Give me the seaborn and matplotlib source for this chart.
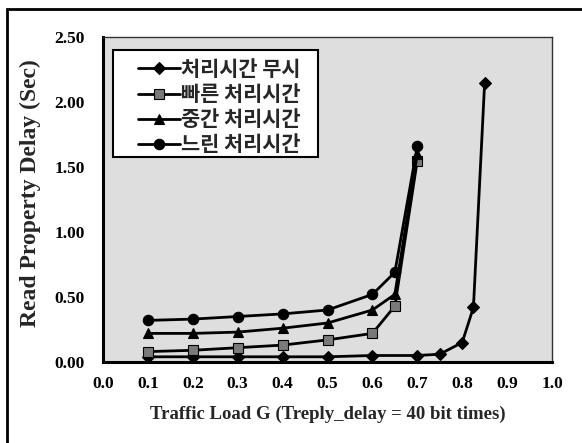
import numpy as np
import pandas as pd
import seaborn as sns
import matplotlib
matplotlib.use("Agg")
import matplotlib.pyplot as plt
from matplotlib.patches import Rectangle

# ---- data ----
labels = ["처리시간 무시", "빠른 처리시간", "중간 처리시간", "느린 처리시간"]

x_ignore = [0.1, 0.2, 0.3, 0.4, 0.5, 0.6, 0.7, 0.75, 0.8, 0.825, 0.85]
y_ignore = [0.04, 0.04, 0.04, 0.04, 0.04, 0.05, 0.05, 0.06, 0.15, 0.42, 2.15]

x_common = [0.1, 0.2, 0.3, 0.4, 0.5, 0.6, 0.65, 0.7]
y_fast = [0.08, 0.09, 0.11, 0.13, 0.17, 0.22, 0.43, 1.55]
y_mid = [0.22, 0.22, 0.23, 0.26, 0.30, 0.40, 0.52, 1.60]
y_slow = [0.32, 0.33, 0.35, 0.37, 0.40, 0.52, 0.69, 1.66]

x_ticks = [0.0, 0.1, 0.2, 0.3, 0.4, 0.5, 0.6, 0.7, 0.8, 0.9, 1.0]
y_ticks = [0.0, 0.5, 1.0, 1.5, 2.0, 2.5]

series = [
    (labels[0], x_ignore, y_ignore, "D", "black", 6),
    (labels[1], x_common, y_fast, "s", "#7a7a7a", 6.5),
    (labels[2], x_common, y_mid, "^", "black", 7),
    (labels[3], x_common, y_slow, "o", "black", 7.5),
]

sns.set_style("white")
plt.rcParams['font.family'] = ['Liberation Serif', 'Noto Sans CJK KR', 'DejaVu Sans']

fig = plt.figure(figsize=(5.82, 4.43), dpi=100)
ax = fig.add_axes([103/582, 1-362/443, (552-103)/582, (362-37)/443])
ax.set_facecolor("#dedede")

for name, xs, ys, m, fc, ms in series:
    sns.lineplot(x=xs, y=ys, ax=ax, color="black", linewidth=2, marker=m,
                 markersize=ms, markerfacecolor=fc, markeredgecolor="black",
                 markeredgewidth=0.8, label=name)

ax.set_xlim(0, 1.0)
ax.set_ylim(0, 2.5)
ax.set_xticks(x_ticks)
ax.set_yticks(y_ticks)
ax.set_xticklabels([f"{v:.1f}" for v in x_ticks], fontsize=12.5, fontweight="bold")
ax.set_yticklabels([f"{v:.2f}" for v in y_ticks], fontsize=12.5, fontweight="bold")
ax.tick_params(direction="in", length=4, width=1.5, colors="black")
ax.tick_params(axis="x", pad=10)
ax.tick_params(axis="y", pad=13)

for s in ["left", "bottom"]:
    ax.spines[s].set_linewidth(2.2)
    ax.spines[s].set_color("black")
for s in ["top", "right"]:
    ax.spines[s].set_linewidth(1.0)
    ax.spines[s].set_color("#333333")

ax.set_ylabel("Read Property Delay (Sec)", fontsize=17, fontweight="bold")
ax.yaxis.set_label_coords(-0.138, 0.52)
ax.set_xlabel("Traffic Load G (Treply_delay = 40 bit times)", fontsize=13.5,
              fontweight="bold", labelpad=10)

# legend box (drawn separately to get the wide left margin)
ax.add_patch(Rectangle((0.022, 0.631), 0.457, 0.329, transform=ax.transAxes,
                       facecolor="white", edgecolor="black", linewidth=1.5,
                       zorder=4))
leg = ax.legend(loc="upper left", bbox_to_anchor=(0.078, 0.933), frameon=False,
                handlelength=2.0, handletextpad=0.05,
                labelspacing=0.2, borderpad=0, borderaxespad=0,
                prop={"family": ["Noto Sans CJK KR"], "weight": "bold", "size": 15})
leg.set_zorder(5)

# outer frame
fig.patches.append(Rectangle((7/582, -0.05), 1.2, 1 - 9/443 + 0.05,
                             transform=fig.transFigure, fill=False,
                             edgecolor="black", linewidth=2))

fig.savefig("out.png", dpi=100)
